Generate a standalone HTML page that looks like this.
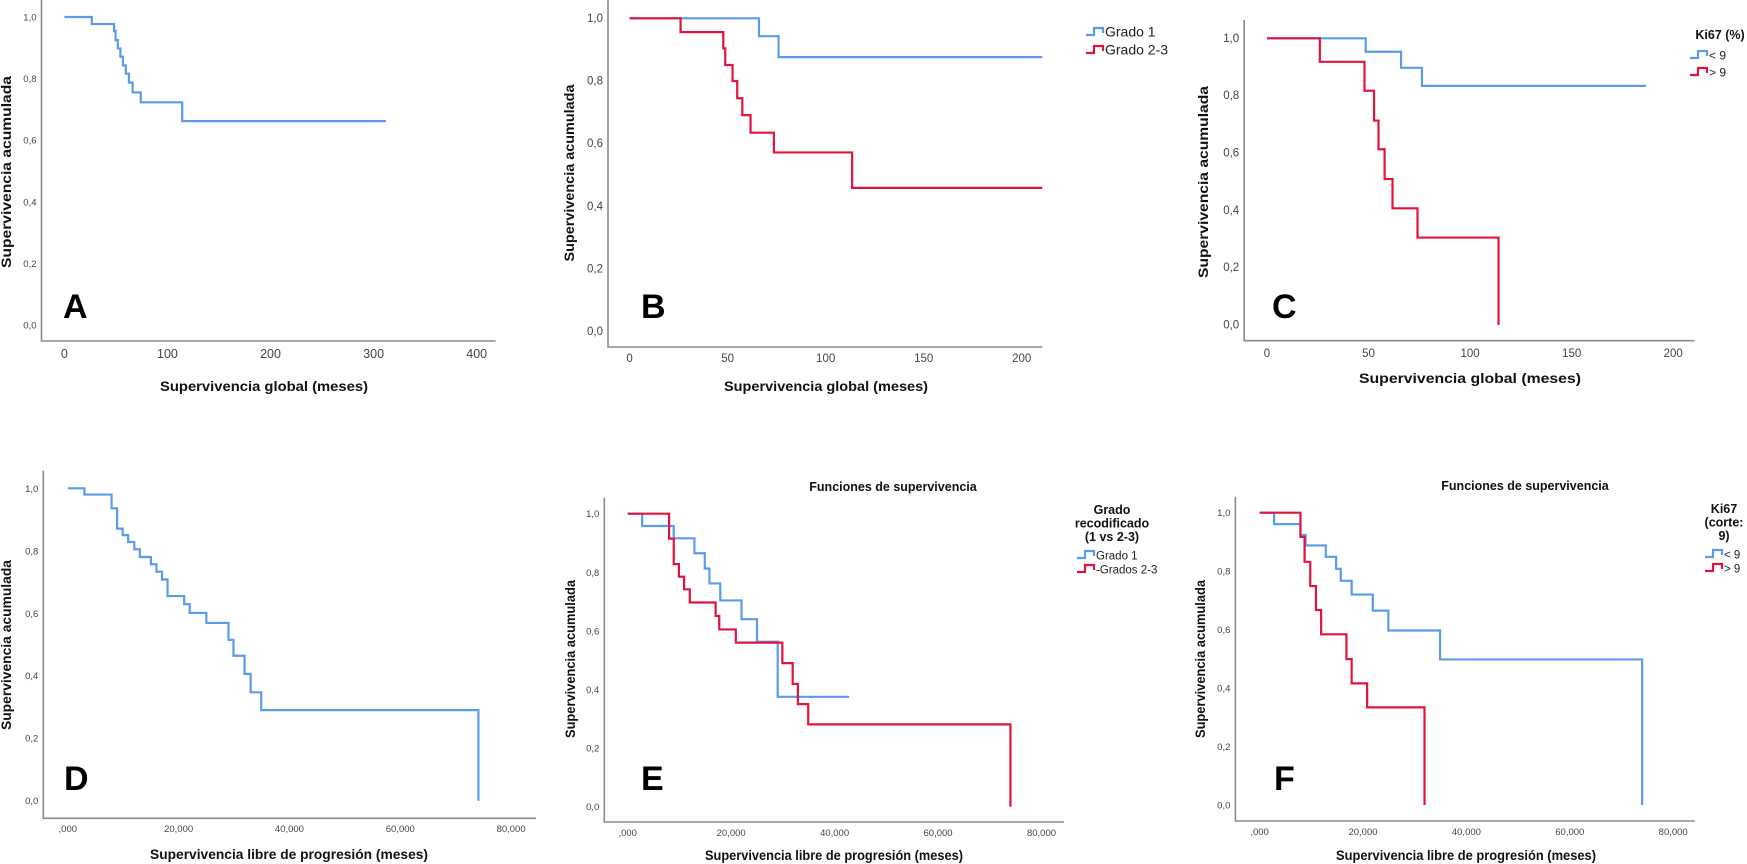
<!DOCTYPE html>
<html><head><meta charset="utf-8"><style>
html,body{margin:0;padding:0;background:#fff;}
svg{display:block;font-family:"Liberation Sans",Arial,sans-serif;}
</style></head><body>
<svg id="fig" width="1747" height="864" viewBox="0 0 1747 864" xmlns="http://www.w3.org/2000/svg"></svg>
<script>
// ---- Data (times in months, survival proportions) ----
const aTimes = [0, 26.6, 48.2, 49.6, 51.8, 54.3, 56.8, 59.6, 62.6, 66.2, 74.1, 114.3];
const aSurv  = [1, 0.977, 0.955, 0.925, 0.898, 0.871, 0.843, 0.816, 0.787, 0.755, 0.723, 0.662];
const aEnd = 312;

const bG1Times = [0, 66, 76];
const bG1Surv  = [1, 0.943, 0.876];
const bG1End = 210.5;
const bG23Times = [0, 26, 47.8, 48.8, 52.5, 54.9, 57.5, 61.7, 73.6, 113.5];
const bG23Surv  = [1, 0.956, 0.904, 0.851, 0.80, 0.745, 0.691, 0.635, 0.572, 0.459];
const bG23End = 210.5;

const cLowTimes = [0, 48.6, 66, 76.3];
const cLowSurv  = [1, 0.953, 0.897, 0.834];
const cLowEnd = 186.6;
const cHighTimes = [0, 26, 48, 52.7, 54.9, 57.9, 61.8, 74.1, 114];
const cHighSurv  = [1, 0.918, 0.817, 0.713, 0.613, 0.509, 0.407, 0.305, 0];
const cHighEnd = 114;

const dTimes = [0, 3, 7.9, 8.9, 9.9, 10.9, 12, 13, 15, 16, 17, 18, 21, 22, 25, 29, 29.9, 31.9, 33, 34.9, 74.1];
const dSurv  = [1, 0.98, 0.936, 0.871, 0.85, 0.828, 0.805, 0.78, 0.757, 0.733, 0.708, 0.655, 0.629, 0.601, 0.569, 0.515, 0.464, 0.406, 0.347, 0.29, 0];
const dEnd = 74.1;

const eG1Times = [0, 2.8, 8.9, 12.9, 14.9, 15.8, 17.9, 22, 25, 29];
const eG1Surv  = [1, 0.958, 0.916, 0.865, 0.813, 0.762, 0.704, 0.640, 0.563, 0.375];
const eG1End = 42.8;
const eG23Times = [0, 8, 8.9, 9.9, 10.9, 12, 17, 17.7, 20.9, 29.9, 31.9, 32.9, 34.9, 74];
const eG23Surv  = [1, 0.915, 0.828, 0.785, 0.742, 0.697, 0.651, 0.605, 0.56, 0.49, 0.419, 0.35, 0.281, 0];
const eG23End = 74;

const fLowTimes = [0, 2.8, 7.9, 8.9, 12.8, 14.8, 15.7, 17.8, 21.9, 24.9, 34.9, 74];
const fLowSurv  = [1, 0.961, 0.924, 0.888, 0.849, 0.808, 0.767, 0.72, 0.665, 0.597, 0.498, 0];
const fLowEnd = 74;
const fHighTimes = [0, 7.9, 8.7, 9.8, 10.9, 11.9, 16.8, 17.8, 20.8, 31.9];
const fHighSurv  = [1, 0.917, 0.832, 0.749, 0.667, 0.584, 0.499, 0.416, 0.334, 0];
const fHighEnd = 31.9;

const yTickVals = [0, 0.2, 0.4, 0.6, 0.8, 1.0];
const yTickLabels = ["0,0", "0,2", "0,4", "0,6", "0,8", "1,0"];
const xTicksA = [0, 100, 200, 300, 400];
const xTicksBC = [0, 50, 100, 150, 200];
const xTicksDEF = [0, 20, 40, 60, 80];
const xTickLabelsDEF = [",000", "20,000", "40,000", "60,000", "80,000"];

const BLUE = "#5b9bea", RED = "#e0143c";
const NS = "http://www.w3.org/2000/svg";
const svg = document.getElementById("fig");

function el(tag, attrs, parent, text) {
  const e = document.createElementNS(NS, tag);
  for (const k in attrs) e.setAttribute(k, attrs[k]);
  if (text !== undefined) e.textContent = text;
  (parent || svg).appendChild(e);
  return e;
}

function panel(p) {
  const g = el("g", {});
  
  
  const xs = v => p.x0 + (v - p.xmin) / (p.xmax - p.xmin) * (p.x1 - p.x0);
  const ys = v => p.y0 + v * (p.y1 - p.y0);
  const ax = el("path", {d: `M${p.left},${p.top} V${p.bottom} H${p.right}`, fill: "none", stroke: "#8a8a8a", "stroke-width": 1.6}, g);
  
  
  yTickVals.forEach((v, i) => {
    const t = el("text", {x: p.left - 5, y: ys(v) + 3.5, "text-anchor": "end", "font-size": p.ytf, fill: "#444"}, g, yTickLabels[i]);
    
    
  });
  p.xt.forEach((v, i) => {
    const t = el("text", {x: xs(v), y: p.xty, "text-anchor": "middle", "font-size": p.xtf, fill: "#444"}, g, p.xtl ? p.xtl[i] : String(v));
    
    
  });
  p.series.forEach(s => {
    let d = `M${xs(s.t[0])},${ys(s.s[0])}`;
    for (let i = 1; i < s.t.length; i++) {
      d += ` H${xs(s.t[i])} V${ys(s.s[i])}`;
    }
    d += ` H${xs(s.end)}`;
    const path = el("path", {d: d, fill: "none", stroke: s.c, "stroke-width": 2.2}, g);
    
    
  });
  const yt = el("text", {x: p.ylx, y: p.yly, "text-anchor": "middle", "font-size": 14, "font-weight": "bold", fill: "#111",
    transform: `rotate(-90 ${p.ylx} ${p.yly})`, textLength: p.ylLen, lengthAdjust: "spacingAndGlyphs"}, g, "Supervivencia acumulada");
  
  
  const xt = el("text", {x: p.xlx, y: p.xly, "text-anchor": "middle", "font-size": 14, "font-weight": "bold", fill: "#111",
    textLength: p.xlLen, lengthAdjust: "spacingAndGlyphs"}, g, p.xlabel);
  
  
  const lt = el("text", {x: p.lx, y: p.ly, "font-size": 34, "font-weight": "bold", fill: "#000"}, g, p.id);
  
  
  if (p.title) {
    const tt = el("text", {x: p.title[0], y: p.title[1], "text-anchor": "middle", "font-size": 12.5, "font-weight": "bold", fill: "#111"}, g, "Funciones de supervivencia");
    
    
  }
}

function legendEntry(x, y, color, label, fs, name) {
  const g = el("g", {});
  
  
  el("path", {d: `M${x},${y + 3} h8 v-7 h9 v5`, fill: "none", stroke: color, "stroke-width": 2.2}, g);
  el("text", {x: x + 19, y: y + 4.5, "font-size": fs, fill: "#222"}, g, label);
}
function legendTitle(lines, cx, y0, dy, name) {
  lines.forEach((l, i) => {
    const t = el("text", {x: cx, y: y0 + i * dy, "text-anchor": "middle", "font-size": 12.5, "font-weight": "bold", fill: "#111"}, svg, l);
    
    
  });
}

const XL1 = "Supervivencia global (meses)", XL2 = "Supervivencia libre de progresión (meses)";

panel({id: "A", left: 41.5, top: 0, bottom: 341, right: 495.6, x0: 64.4, x1: 476.7, xmin: 0, xmax: 400, y0: 325, y1: 17,
  ytf: 9.5, xtf: 12.5, xt: xTicksA, xty: 358, ylx: 11, yly: 172, ylLen: 192, xlx: 264, xly: 391, xlLen: 208, xlabel: XL1, lx: 63, ly: 318,
  series: [{t: aTimes, s: aSurv, end: aEnd, c: BLUE, name: "overall"}]});
panel({id: "B", left: 608, top: 0, bottom: 347, right: 1042.3, x0: 629.6, x1: 1021.7, xmin: 0, xmax: 200, y0: 331.7, y1: 18.3,
  ytf: 11.5, xtf: 11.5, xt: xTicksBC, xty: 362, ylx: 574, yly: 173, ylLen: 177, xlx: 826, xly: 391, xlLen: 204, xlabel: XL1, lx: 641, ly: 318,
  series: [{t: bG1Times, s: bG1Surv, end: bG1End, c: BLUE, name: "grado-1"}, {t: bG23Times, s: bG23Surv, end: bG23End, c: RED, name: "grado-2-3"}]});
panel({id: "C", left: 1244.2, top: 20, bottom: 340.7, right: 1694.6, x0: 1267, x1: 1673.2, xmin: 0, xmax: 200, y0: 325, y1: 38.3,
  ytf: 11.5, xtf: 11.5, xt: xTicksBC, xty: 357, ylx: 1208, yly: 182, ylLen: 192, xlx: 1470, xly: 383, xlLen: 222, xlabel: XL1, lx: 1272, ly: 318,
  series: [{t: cLowTimes, s: cLowSurv, end: cLowEnd, c: BLUE, name: "ki67-low"}, {t: cHighTimes, s: cHighSurv, end: cHighEnd, c: RED, name: "ki67-high"}]});
panel({id: "D", left: 43.3, top: 470.7, bottom: 818.3, right: 536, x0: 67.8, x1: 511.1, xmin: 0, xmax: 80, y0: 800.7, y1: 488.3,
  ytf: 9.5, xtf: 9.5, xt: xTicksDEF, xtl: xTickLabelsDEF, xty: 832, ylx: 11, yly: 645, ylLen: 170, xlx: 289, xly: 859, xlLen: 278, xlabel: XL2, lx: 64, ly: 790,
  series: [{t: dTimes, s: dSurv, end: dEnd, c: BLUE, name: "pfs-overall"}]});
panel({id: "E", left: 604.3, top: 497.7, bottom: 822, right: 1064, x0: 627.7, x1: 1041.5, xmin: 0, xmax: 80, y0: 806.7, y1: 513.7,
  ytf: 9.5, xtf: 9.5, xt: xTicksDEF, xtl: xTickLabelsDEF, xty: 836, ylx: 575, yly: 659, ylLen: 158, xlx: 834, xly: 860, xlLen: 258, xlabel: XL2, lx: 641, ly: 790,
  title: [893, 491],
  series: [{t: eG1Times, s: eG1Surv, end: eG1End, c: BLUE, name: "grado-1"}, {t: eG23Times, s: eG23Surv, end: eG23End, c: RED, name: "grados-2-3"}]});
panel({id: "F", left: 1235.4, top: 496.7, bottom: 821, right: 1695, x0: 1259.6, x1: 1673.2, xmin: 0, xmax: 80, y0: 805, y1: 512.7,
  ytf: 9.5, xtf: 9.5, xt: xTicksDEF, xtl: xTickLabelsDEF, xty: 835, ylx: 1205, yly: 659, ylLen: 158, xlx: 1466, xly: 860, xlLen: 260, xlabel: XL2, lx: 1274, ly: 790,
  title: [1525, 490],
  series: [{t: fLowTimes, s: fLowSurv, end: fLowEnd, c: BLUE, name: "ki67-low"}, {t: fHighTimes, s: fHighSurv, end: fHighEnd, c: RED, name: "ki67-high"}]});

legendEntry(1086, 32, BLUE, "Grado 1", 14, "legend-entry-grado-1");
legendEntry(1086, 50, RED, "Grado 2-3", 14, "legend-entry-grado-2-3");
legendTitle(["Ki67 (%)"], 1720, 39, 0, "legend-title-ki67");
legendEntry(1690, 55, BLUE, "< 9", 12, "legend-entry-ki67-low");
legendEntry(1690, 72, RED, "> 9", 12, "legend-entry-ki67-high");
legendTitle(["Grado", "recodificado", "(1 vs 2-3)"], 1112, 514, 13.5, "legend-title-grado");
legendEntry(1077, 555, BLUE, "Grado 1", 11.5, "legend-entry-grado-1");
legendEntry(1077, 569, RED, "-Grados 2-3", 11.5, "legend-entry-grados-2-3");
legendTitle(["Ki67", "(corte:", "9)"], 1724, 513, 13.5, "legend-title-ki67-corte");
legendEntry(1705, 554, BLUE, "< 9", 11.5, "legend-entry-ki67-low");
legendEntry(1705, 568, RED, "> 9", 11.5, "legend-entry-ki67-high");
</script>
</body></html>
